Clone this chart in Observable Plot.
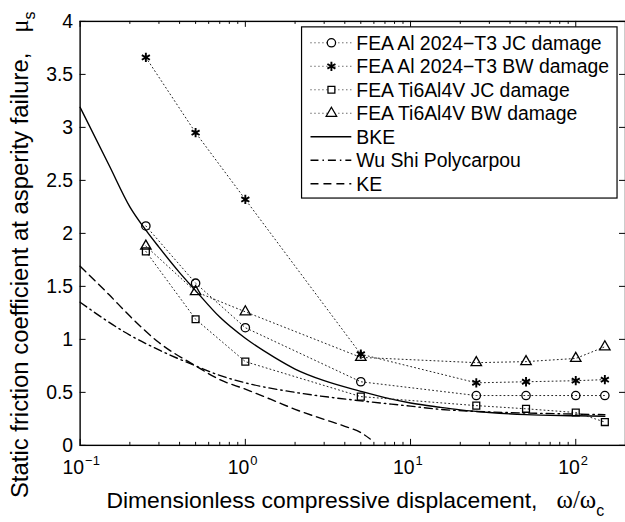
<!DOCTYPE html>
<html><head><meta charset="utf-8">
<script src="https://cdn.jsdelivr.net/npm/d3@7"></script>
<script src="https://cdn.jsdelivr.net/npm/@observablehq/plot@0.6"></script>
<style>
html,body{margin:0;padding:0;background:#fff;overflow:hidden;}
#chart{width:625px;height:522px;overflow:hidden;position:relative;}
</style></head><body><div id="chart"></div>
<script>
// FEA sample points
const xFEA = [0.25, 0.5, 1, 5, 25, 50, 100, 150];
const alJC = [2.07, 1.53, 1.11, 0.60, 0.47, 0.47, 0.47, 0.47];
const alBW = [3.66, 2.95, 2.32, 0.86, 0.59, 0.60, 0.61, 0.62];
const tiJC = [1.83, 1.19, 0.79, 0.46, 0.375, 0.345, 0.31, 0.22];
const tiBW = [1.88, 1.45, 1.26, 0.83, 0.78, 0.79, 0.82, 0.93];

// Model curves
const xBKE = [0.1, 0.15, 0.2, 0.25, 0.3, 0.4, 0.5, 0.7, 1, 1.5, 2, 3, 5, 7, 10, 15, 20, 30, 50, 100, 150];
const yBKE = [3.19, 2.64, 2.25, 2.03, 1.87, 1.63, 1.46, 1.21, 1.01, 0.83, 0.72, 0.61, 0.51, 0.45, 0.40, 0.36, 0.335, 0.31, 0.29, 0.28, 0.275];
const xWSP = [0.1, 0.2, 0.3, 0.5, 0.7, 1, 2, 5, 10, 15, 25, 50, 100, 150];
const yWSP = [1.35, 1.04, 0.90, 0.75, 0.66, 0.59, 0.50, 0.42, 0.37, 0.34, 0.32, 0.305, 0.295, 0.29];
const xKE = [0.1, 0.15, 0.2, 0.3, 0.5, 0.7, 1, 1.5, 2, 3, 4, 5, 5.7];
const yKE = [1.69, 1.42, 1.22, 0.97, 0.75, 0.62, 0.53, 0.42, 0.34, 0.245, 0.18, 0.12, 0.06];

// Ticks
const xMajor = [0.1, 1, 10, 100];
const xExp = ["\u22121", "0", "1", "2"];
const xMinor = [0.2,0.3,0.4,0.5,0.6,0.7,0.8,0.9,2,3,4,5,6,7,8,9,20,30,40,50,60,70,80,90,200];
const yTicks = [0, 0.5, 1, 1.5, 2, 2.5, 3, 3.5, 4];

const seriesNames = ["FEA Al 2024\u2212T3 JC damage", "FEA Al 2024\u2212T3 BW damage", "FEA Ti6Al4V JC damage", "FEA Ti6Al4V BW damage", "BKE", "Wu Shi Polycarpou", "KE"];
const symbols = ["circle", "asterisk", "square", "triangle"];

const toPts = (xs, ys) => xs.map((x, i) => ({x, y: ys[i]}));
const fea = [alJC, alBW, tiJC, tiBW].map(ys => toPts(xFEA, ys));
const bke = toPts(xBKE, yBKE), wsp = toPts(xWSP, yWSP), ke = toPts(xKE, yKE);

const W = 628, H = 522, ML = 80, MR = 0, MT = 21, MB = 75;
const FW = W - ML - MR, FH = H - MT - MB;

const DOT = "1 3";
const DASH = "8 5";
const DASHDOT = "8 4 1.5 4";
const R = {circle: 4.2, asterisk: 4.4, square: 3.9, triangle: 3.9};
const SW = {circle: 1.3, asterisk: 1.9, square: 1.3, triangle: 1.3};

const marks = [
  Plot.frame({stroke: "black", strokeWidth: 1.4}),
  // inward ticks
  Plot.ruleX(xMajor, {x: d => d, insetTop: FH - 6, stroke: "black"}),
  Plot.ruleX(xMinor, {x: d => d, insetTop: FH - 3, stroke: "black"}),
  Plot.ruleX(xMajor, {x: d => d, insetBottom: FH - 6, stroke: "black"}),
  Plot.ruleX(xMinor, {x: d => d, insetBottom: FH - 3, stroke: "black"}),
  Plot.ruleY(yTicks, {y: d => d, insetRight: FW - 6, stroke: "black"}),
  Plot.ruleY(yTicks, {y: d => d, insetLeft: FW - 6, stroke: "black"}),
  // tick labels
  Plot.axisY({anchor: "left", ticks: yTicks, tickSize: 0, tickPadding: 7, tickFormat: d => String(d), label: null}),
  Plot.text(xMajor, {x: d => d, frameAnchor: "bottom", text: () => "10", textAnchor: "end", dx: 4, dy: 29, lineAnchor: "bottom"}),
  Plot.text(xMajor, {x: d => d, frameAnchor: "bottom", text: (d, i) => xExp[i], textAnchor: "start", dx: 5, dy: 20, lineAnchor: "bottom", fontSize: 13}),
  // model curves
  Plot.line(bke, {x: "x", y: "y", stroke: "black", strokeWidth: 1.4, curve: "monotone-x"}),
  Plot.line(wsp, {x: "x", y: "y", stroke: "black", strokeWidth: 1.4, strokeDasharray: DASHDOT, curve: "monotone-x"}),
  Plot.line(ke, {x: "x", y: "y", stroke: "black", strokeWidth: 1.4, strokeDasharray: DASH, curve: "monotone-x"}),
];
fea.forEach((pts, k) => {
  const s = symbols[k];
  marks.push(Plot.line(pts, {x: "x", y: "y", stroke: "#222", strokeWidth: 1, strokeDasharray: DOT}));
  marks.push(Plot.dot(pts, {x: "x", y: "y", symbol: s, r: R[s], stroke: "black", strokeWidth: SW[s], fill: "none"}));
});

const plot = Plot.plot({
  width: W, height: H,
  marginLeft: ML, marginRight: MR, marginTop: MT, marginBottom: MB,
  style: {fontFamily: "'Liberation Sans', Arial, Helvetica, sans-serif", fontSize: "19.5px", background: "white", color: "black", overflow: "visible"},
  x: {type: "log", domain: [0.1, 200], axis: null, label: null},
  y: {domain: [0, 4], label: null},
  marks
});
document.getElementById("chart").appendChild(plot);

// Axis titles and legend
const svg = d3.select(plot);
const FONT = "'Liberation Sans', Arial, Helvetica, sans-serif";
const SERIF = "'Liberation Serif', 'Times New Roman', serif";

const xl = svg.append("text").attr("x", 357).attr("y", 510).attr("text-anchor", "middle")
  .attr("font-family", FONT).attr("font-size", 23).attr("fill", "black");
xl.append("tspan").text("Dimensionless compressive displacement,\u00a0\u00a0\u00a0");
xl.append("tspan").attr("font-family", SERIF).attr("font-size", 25).text("\u03c9/\u03c9");
xl.append("tspan").attr("font-size", 16).attr("dy", 8).text("c");

const yl = svg.append("text").attr("transform", "translate(28,256) rotate(-90)").attr("text-anchor", "middle")
  .attr("font-family", FONT).attr("font-size", 24).attr("fill", "black");
yl.append("tspan").text("Static friction coefficient at asperity failure,\u00a0\u00a0\u00a0");
yl.append("tspan").attr("font-family", SERIF).attr("font-size", 25).text("\u03bc");
yl.append("tspan").attr("font-size", 16).attr("dy", 7).text("s");

const lg = svg.append("g").attr("font-family", FONT).attr("font-size", 19.5).attr("text-anchor", "start");
lg.append("rect").attr("x", 303).attr("y", 27).attr("width", 317).attr("height", 172)
  .attr("fill", "white").attr("stroke", "black").attr("stroke-width", 1.2);
const rowY = i => 43 + i * 23.6;
const dashes = [DOT, DOT, DOT, DOT, null, DASHDOT, DASH];
seriesNames.forEach((name, i) => {
  const y = rowY(i);
  lg.append("line").attr("x1", 312).attr("x2", 353).attr("y1", y).attr("y2", y)
    .attr("stroke", i < 4 ? "#222" : "black").attr("stroke-width", i < 4 ? 1 : 1.4)
    .attr("stroke-dasharray", dashes[i]);
  if (i < 4) {
    const s = symbols[i];
    const typ = {circle: d3.symbolCircle, asterisk: d3.symbolAsterisk, square: d3.symbolSquare, triangle: d3.symbolTriangle}[s];
    lg.append("path").attr("d", d3.symbol(typ, Math.PI * R[s] * R[s])())
      .attr("transform", `translate(333,${y})`).attr("fill", "white").attr("stroke", "black").attr("stroke-width", SW[s]);
  }
  lg.append("text").attr("x", 358).attr("y", y).attr("dy", "0.35em").attr("fill", "black").attr("text-anchor", "start").text(name);
});
</script>
</body></html>
